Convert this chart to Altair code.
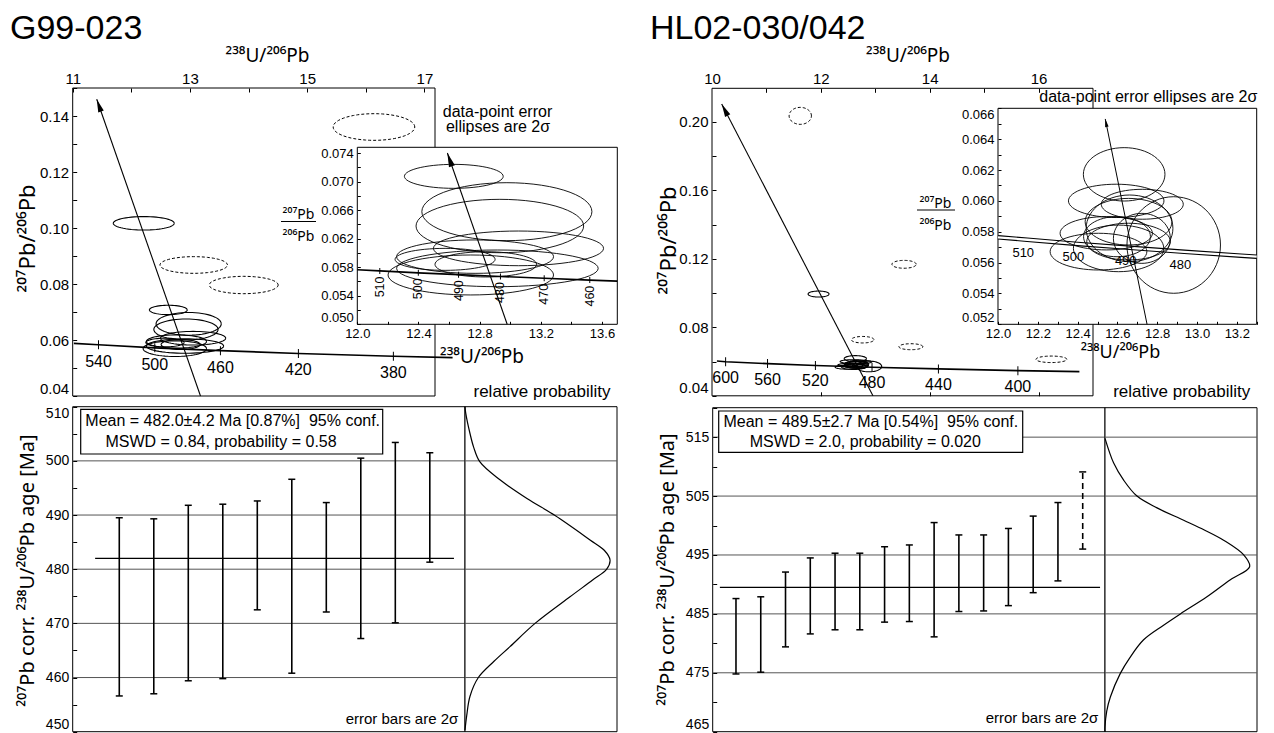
import altair as alt
import pandas as pd

W, H = 1274, 733
FONT = "Liberation Sans"
SUPFONT = "Noto Sans"

# ============================ DATA ============================
# ---------------- Sample G99-023 ----------------
G_NAME = "G99-023"
# accepted analyses, 2-sigma error ellipses: centre (238U/206Pb, 207Pb/206Pb) and half-axes
G_ELL_X = [12.631, 12.978, 12.932, 13.054, 12.770, 12.574, 12.840, 12.916, 12.742, 12.212]
G_ELL_Y = [0.07073, 0.06578, 0.06377, 0.06064, 0.05948, 0.05910, 0.05840, 0.05784, 0.05691, 0.10168]
G_ELL_RX = [0.323, 0.556, 0.548, 0.556, 0.513, 0.327, 0.332, 0.659, 0.541, 0.520]
G_ELL_RY = [0.00168, 0.00406, 0.00374, 0.00243, 0.00234, 0.00154, 0.00177, 0.00257, 0.00280, 0.00240]
# rejected analyses (dashed ellipses)
G_REJ_X = [13.064, 13.917, 16.139]
G_REJ_Y = [0.08679, 0.07964, 0.13607]
G_REJ_RX = [0.576, 0.588, 0.696]
G_REJ_RY = [0.00298, 0.00310, 0.00476]
# concordia (main plot) and its age marks
G_CONC_AGE = [560, 540, 500, 460, 420, 380, 357]
G_CONC_X = [11.02, 11.44, 12.40, 13.52, 14.85, 16.47, 17.48]
G_CONC_Y = [0.0588, 0.0583, 0.0572, 0.0562, 0.0552, 0.0542, 0.0537]
G_CONC_MARKS = [540, 500, 460, 420, 380]
# concordia (inset)
G_INS_AGE = [516, 510, 500, 490, 480, 470, 460, 454]
G_INS_X = [12.000, 12.147, 12.399, 12.662, 12.936, 13.222, 13.520, 13.700]
G_INS_Y = [0.05764, 0.05748, 0.05721, 0.05696, 0.05670, 0.05645, 0.05619, 0.05605]
G_INS_MARKS = [510, 500, 490, 480, 470, 460]
# regression line (arrow) towards common Pb
G_ARROW_X = [13.18, 11.41]
G_ARROW_Y = [0.040, 0.146]
G_IARROW_X = [12.98, 12.589]
G_IARROW_Y = [0.050, 0.0740]
# 207Pb-corrected 238U/206Pb ages, 2-sigma limits
G_AGE_LO = [456.6, 457.0, 459.4, 459.8, 472.5, 460.8, 472.1, 467.2, 470.1, 481.3]
G_AGE_HI = [489.5, 489.3, 491.8, 492.0, 492.6, 496.6, 492.3, 500.5, 503.4, 501.5]
G_MEAN = 482.0
G_MEAN_SPAN = [0.3, 10.7]
G_PROB_AGE = [450.3, 453.0, 456.5, 460.0, 463.0, 465.7, 470.0, 474.9, 478.0, 480.0, 481.7,
              483.5, 485.4, 489.9, 493.0, 496.5, 499.8, 502.5, 505.1, 508.8, 510.0]
G_PROB = [0.0, 0.012, 0.034, 0.092, 0.20, 0.31, 0.483, 0.724, 0.88, 0.977, 1.0,
          0.96, 0.862, 0.621, 0.43, 0.241, 0.103, 0.06, 0.034, 0.005, 0.0]
G_STATS = ["Mean = 482.0\u00b14.2 Ma [0.87%]\u00a0 95% conf.", "MSWD = 0.84, probability = 0.58"]

# ---------------- Sample HL02-030/042 ----------------
H_NAME = "HL02-030/042"
H_ELL_X = [12.634, 12.594, 12.725, 12.883, 12.656, 12.544, 12.656, 12.505, 12.606, 12.598,
           12.661, 12.723, 11.958]
H_ELL_Y = [0.06172, 0.06000, 0.05978, 0.05714, 0.05865, 0.05790, 0.05736, 0.05671, 0.05692,
           0.05768, 0.05822, 0.05757, 0.09944]
H_ELL_RX = [0.205, 0.240, 0.206, 0.235, 0.218, 0.232, 0.210, 0.243, 0.227, 0.168, 0.218, 0.143, 0.193]
H_ELL_RY = [0.00173, 0.00108, 0.00097, 0.00313, 0.00151, 0.00108, 0.00119, 0.00119, 0.00151,
            0.00130, 0.00216, 0.00162, 0.00175]
H_REJ_X = [11.622, 13.529, 12.768, 13.654, 16.236]
H_REJ_Y = [0.2035, 0.1168, 0.07276, 0.06867, 0.06131]
H_REJ_RX = [0.205, 0.223, 0.208, 0.220, 0.284]
H_REJ_RY = [0.00496, 0.00230, 0.00190, 0.00175, 0.00190]
H_CONC_AGE = [613, 600, 560, 520, 480, 440, 400, 374]
H_CONC_X = [10.09, 10.25, 11.02, 11.90, 12.94, 14.16, 15.62, 16.75]
H_CONC_Y = [0.0603, 0.0599, 0.0588, 0.0577, 0.0567, 0.0557, 0.0547, 0.0541]
H_CONC_MARKS = [600, 560, 520, 480, 440, 400]
H_INS_AGE = [516, 510, 500, 490, 480, 470, 467]
H_INS_X = [12.000, 12.147, 12.399, 12.662, 12.936, 13.222, 13.300]
H_INS_Y = [0.05764, 0.05748, 0.05721, 0.05696, 0.05670, 0.05645, 0.05638]
H_INS_MARKS = [510, 500, 490, 480]
H_ARROW_X = [12.957, 10.178]
H_ARROW_Y = [0.040, 0.2104]
H_IARROW_X = [12.749, 12.539]
H_IARROW_Y = [0.052, 0.06531]
H_AGE_LO = [474.8, 475.1, 479.4, 481.6, 482.3, 482.3, 483.6, 483.7, 481.1, 485.4, 485.5, 486.4, 488.6, 490.6]
H_AGE_HI = [487.6, 487.9, 492.1, 494.5, 495.3, 495.3, 496.4, 496.7, 500.5, 498.4, 498.4, 499.5, 501.6, 503.9]
H_REJ_AGE_LO = [496.0]
H_REJ_AGE_HI = [509.1]
H_MEAN = 489.5
H_MEAN_SPAN = [0.35, 15.7]
H_PROB_AGE = [465.0, 465.8, 468.5, 470.9, 474.9, 477.5, 480.6, 483.0, 485.0, 487.9, 490.8,
              493.0, 495.0, 497.5, 499.2, 500.9, 503.0, 505.0, 507.7, 510.6, 514.8]
H_PROB = [0.0, 0.0, 0.012, 0.037, 0.106, 0.17, 0.267, 0.40, 0.521, 0.705, 0.867,
          1.0, 0.959, 0.82, 0.69, 0.544, 0.36, 0.221, 0.129, 0.06, 0.0]
H_STATS = ["Mean = 489.5\u00b12.7 Ma [0.54%]\u00a0 95% conf.", "MSWD = 2.0, probability = 0.020"]

# ============================ LAYOUT (domains -> pixel ranges) ============================
P = {
    "GM": dict(xd=[11.0, 17.18], xr=[72.7, 435.0], yd=[0.04, 0.15], yr=[396.0, 88.0]),
    "GI": dict(xd=[12.0, 13.70], xr=[357.3, 617.3], yd=[0.050, 0.0748], yr=[324.3, 147.3]),
    "GB": dict(xd=[-0.35, 11.02], xr=[72.7, 465.0], yd=[450, 510], yr=[731.7, 406.7]),
    "GP": dict(xd=[0.0, 1.048], xr=[465.0, 617.0], yd=[450, 510], yr=[731.7, 406.7]),
    "HM": dict(xd=[10.0, 17.0], xr=[712.0, 1093.0], yd=[0.04, 0.2196], yr=[395.8, 88.3]),
    "HI": dict(xd=[12.0, 13.30], xr=[998.0, 1256.7], yd=[0.052, 0.066], yr=[324.3, 108.3]),
    "HB": dict(xd=[0.06, 15.9], xr=[712.7, 1105.0], yd=[465, 520], yr=[731.7, 407.7]),
    "HP": dict(xd=[0.0, 1.051], xr=[1105.0, 1257.0], yd=[465, 520], yr=[731.7, 407.7]),
}
SUP_U = "\u00b2\u00b3\u2078U/\u00b2\u2070\u2076Pb"
SUP_PB = "\u00b2\u2070\u2077Pb/\u00b2\u2070\u2076Pb"
SUP_AGE = "\u00b2\u2070\u2077Pb corr. \u00b2\u00b3\u2078U/\u00b2\u2070\u2076Pb age [Ma]"
ONE = pd.DataFrame({"a": [0]})


def S(p):
    return (alt.Scale(domain=p["xd"], range=p["xr"], zero=False, nice=False),
            alt.Scale(domain=p["yd"], range=p["yr"], zero=False, nice=False))


def XE(f, p, axis=None):
    return alt.X(f, type="quantitative", scale=S(p)[0], axis=axis)


def YE(f, p, axis=None):
    return alt.Y(f, type="quantitative", scale=S(p)[1], axis=axis)


def _off(orient, pos):
    return {"left": -pos, "right": pos - W, "top": -pos, "bottom": pos - H}[orient]


def lab_axis(orient, pos, values, fmt, size, flush=False, pad=3, title=None, tsize=20, tx=0, ty=0):
    kw = dict(orient=orient, offset=_off(orient, pos), values=values, format=fmt, domain=False,
              ticks=False, grid=False, labelFont=FONT, labelFontSize=size, labelColor="black",
              labelPadding=pad, labelFlush=flush, labelOverlap=False, zindex=2)
    if title is None:
        kw["title"] = None
    else:
        kw.update(title=title, titleFont=SUPFONT, titleFontSize=tsize, titleFontWeight="normal",
                  titleColor="black", titleX=tx, titleY=ty, titleBaseline="alphabetic",
                  titleAlign="center")
    return alt.Axis(**kw)


def tick_axis(orient, pos, values, size=4):
    return alt.Axis(orient=orient, offset=_off(orient, pos), values=values, labels=False,
                    domain=False, ticks=True, tickSize=size, tickColor="black", tickWidth=1,
                    grid=False, title=None, zindex=2)


def frame(p, fill="white", xaxis=None, yaxis=None, sw=1.0):
    df = pd.DataFrame({"x0": [p["xd"][0]], "x1": [p["xd"][1]], "y0": [p["yd"][0]], "y1": [p["yd"][1]]})
    return alt.Chart(df).mark_rect(fill=fill, stroke="black", strokeWidth=sw).encode(
        x=XE("x0", p, xaxis), x2="x1:Q", y=YE("y0", p, yaxis), y2="y1:Q")


def carrier(p, xaxis=None, yaxis=None):
    df = pd.DataFrame({"cx": p["xd"], "cy": p["yd"]})
    return alt.Chart(df).mark_point(opacity=0).encode(x=XE("cx", p, xaxis), y=YE("cy", p, yaxis))


def ellipses(xs, ys, rxs, rys, p, dash=False, sw=1.0):
    n = 60
    rows = []
    for i, (cx, cy, rx, ry) in enumerate(zip(xs, ys, rxs, rys)):
        for k in range(n + 1):
            rows.append({"id": i, "k": k, "cx": cx, "cy": cy, "rx": rx, "ry": ry})
    mk = dict(color="black", strokeWidth=sw, opacity=1, strokeJoin="round")
    if dash:
        mk["strokeDash"] = [3, 2]
    return alt.Chart(pd.DataFrame(rows)).transform_calculate(
        ex=f"datum.cx + datum.rx * cos(2 * PI * datum.k / {n})",
        ey=f"datum.cy + datum.ry * sin(2 * PI * datum.k / {n})",
    ).mark_line(**mk).encode(x=XE("ex", p), y=YE("ey", p), detail="id:N", order=alt.Order("k:Q"))


def line(xs, ys, p, sw=1.0, color="black", interp="linear", dash=None):
    df = pd.DataFrame({"lx": xs, "ly": ys, "o": list(range(len(xs)))})
    mk = dict(color=color, strokeWidth=sw, opacity=1, interpolate=interp)
    if dash:
        mk["strokeDash"] = dash
    return alt.Chart(df).mark_line(**mk).encode(x=XE("lx", p), y=YE("ly", p), order=alt.Order("o:Q"))


def arrowhead(x, y, p, angle, size):
    df = pd.DataFrame({"hx": [x], "hy": [y]})
    return alt.Chart(df).mark_point(shape="M0,0L0.45,2L-0.45,2Z", filled=True, color="black",
                                    opacity=1, size=size, angle=angle).encode(x=XE("hx", p), y=YE("hy", p))


def conc_marks(ages, xs, ys, marks, p, tick=8, fsize=16, angle=0, dx=0, dy=16, ticks=True):
    sel = [(a, x, y) for a, x, y in zip(ages, xs, ys) if a in marks]
    df = pd.DataFrame({"age": [s[0] for s in sel], "mx": [s[1] for s in sel], "my": [s[2] for s in sel]})
    base = alt.Chart(df)
    out = []
    if ticks:
        out.append(base.mark_tick(orient="vertical", size=tick, thickness=1, color="black", opacity=1)
                   .encode(x=XE("mx", p), y=YE("my", p)))
    tk = dict(font=FONT, fontSize=fsize, color="black", align="center", baseline="middle",
              xOffset=dx, yOffset=dy)
    if angle:
        tk["angle"] = angle
    out.append(base.mark_text(**tk).encode(x=XE("mx", p), y=YE("my", p), text="age:N"))
    return out


def txt(s, x, y, size, align="center", baseline="alphabetic", font=FONT):
    return alt.Chart(ONE).mark_text(text=s, font=font, fontSize=size, color="black", align=align,
                                    baseline=baseline).encode(x=alt.value(x), y=alt.value(y))


def grid(values, p, color="#555555"):
    df = pd.DataFrame({"gv": values, "ga": [p["xd"][0]] * len(values), "gb": [p["xd"][1]] * len(values)})
    return alt.Chart(df).mark_rule(color=color, strokeWidth=1, opacity=1).encode(
        x=XE("ga", p), x2="gb:Q", y=YE("gv", p))


def bars(lo, hi, p, start=1, dash=None, sw=1.6):
    df = pd.DataFrame({"i": list(range(start, start + len(lo))), "lo": lo, "hi": hi})
    mk = dict(color="black", strokeWidth=sw, opacity=1)
    if dash:
        mk["strokeDash"] = dash
    r = alt.Chart(df).mark_rule(**mk).encode(x=XE("i", p), y=YE("lo", p), y2="hi:Q")
    caps = alt.Chart(df).transform_fold(["lo", "hi"], as_=["end", "v"]).mark_tick(
        orient="horizontal", size=7, thickness=1.5, color="black", opacity=1).encode(
        x=XE("i", p), y=YE("v", p))
    return [r, caps]


def mean_line(m, span, p):
    df = pd.DataFrame({"m": [m], "m0": [span[0]], "m1": [span[1]]})
    return alt.Chart(df).mark_rule(color="black", strokeWidth=1.3, opacity=1).encode(
        x=XE("m0", p), x2="m1:Q", y=YE("m", p))


def prob_curve(ages, vals, p):
    df = pd.DataFrame({"pa": ages, "pv": vals})
    return alt.Chart(df).mark_line(color="black", strokeWidth=1.2, opacity=1,
                                   interpolate="catmull-rom").encode(
        x=XE("pv", p), y=YE("pa", p), order=alt.Order("pa:Q"))


def box(x0, x1, y0, y1):
    return alt.Chart(ONE).mark_rect(fill="white", stroke="black", strokeWidth=1.2).encode(
        x=alt.value(x0), x2=alt.value(x1), y=alt.value(y0), y2=alt.value(y1))


def hrule(x0, x1, y):
    return alt.Chart(ONE).mark_rule(color="black", strokeWidth=1).encode(
        x=alt.value(x0), x2=alt.value(x1), y=alt.value(y))


def steps(a, b, s):
    n = int(round((b - a) / s))
    return [round(a + i * s, 6) for i in range(n + 1)]


layers = []

# ============================ LEFT: G99-023 ============================
gm, gi, gb, gp = P["GM"], P["GI"], P["GB"], P["GP"]
layers.append(txt(G_NAME, 10, 38.5, 34, align="left"))
# main Tera-Wasserburg
layers.append(frame(gm,
                    xaxis=lab_axis("top", 88.0, [11, 13, 15, 17], "d", 15, pad=2, title=SUP_U,
                                   tsize=19, tx=267, ty=-26.5),
                    yaxis=lab_axis("left", 72.7, steps(0.04, 0.14, 0.02), ".2f", 15, flush=True,
                                   pad=4, title=SUP_PB, tsize=22, tx=-37.7, ty=238)))
layers.append(carrier(gm, xaxis=tick_axis("bottom", 88.0, steps(11, 17, 1)),
                      yaxis=tick_axis("right", 72.7, steps(0.04, 0.15, 0.01))))
layers.append(ellipses(G_REJ_X, G_REJ_Y, G_REJ_RX, G_REJ_RY, gm, dash=True))
layers.append(ellipses(G_ELL_X, G_ELL_Y, G_ELL_RX, G_ELL_RY, gm, sw=1.1))
layers.append(line(G_CONC_X, G_CONC_Y, gm, sw=1.6))
layers += conc_marks(G_CONC_AGE, G_CONC_X, G_CONC_Y, G_CONC_MARKS, gm, tick=9, fsize=16, dy=17)
layers.append(line(G_ARROW_X, G_ARROW_Y, gm, sw=1.1))
layers.append(arrowhead(G_ARROW_X[1], G_ARROW_Y[1], gm, 340.7, 169))
layers.append(txt("data-point error", 497.5, 116.7, 16))
layers.append(txt("ellipses are 2\u03c3", 498, 131.7, 16))
# inset
layers.append(frame(gi,
                    xaxis=lab_axis("bottom", 324.3, steps(12.0, 13.6, 0.4), ".1f", 13, pad=3,
                                   title=SUP_U, tsize=19, tx=481.5, ty=38.5),
                    yaxis=lab_axis("left", 357.3, steps(0.050, 0.074, 0.004), ".3f", 13, pad=4,
                                   flush=True)))
layers.append(carrier(gi, xaxis=tick_axis("top", 324.3, steps(12.0, 13.6, 0.2), 3),
                      yaxis=tick_axis("right", 357.3, steps(0.050, 0.074, 0.002), 3)))
ins_sel = [i for i in range(len(G_ELL_Y)) if G_ELL_Y[i] < gi["yd"][1]]
layers.append(ellipses([G_ELL_X[i] for i in ins_sel], [G_ELL_Y[i] for i in ins_sel],
                       [G_ELL_RX[i] for i in ins_sel], [G_ELL_RY[i] for i in ins_sel], gi, sw=0.9))
layers.append(line(G_INS_X, G_INS_Y, gi, sw=1.6))
layers += conc_marks(G_INS_AGE, G_INS_X, G_INS_Y, G_INS_MARKS, gi, tick=6, fsize=12.5,
                     angle=270, dy=16)
layers.append(line(G_IARROW_X, G_IARROW_Y, gi, sw=1.1))
layers.append(arrowhead(G_IARROW_X[1], G_IARROW_Y[1], gi, 341, 196))
layers.append(txt("\u00b2\u2070\u2077Pb", 298.5, 219.3, 14, font=SUPFONT))
layers.append(hrule(281, 316, 221.5))
layers.append(txt("\u00b2\u2070\u2076Pb", 298.5, 240.7, 14, font=SUPFONT))
# weighted mean panel
layers.append(frame(gb, yaxis=lab_axis("left", 72.7, steps(450, 510, 10), "d", 14, flush=True,
                                       pad=4, title=SUP_AGE, tsize=20, tx=-39.4, ty=570)))
layers.append(grid(steps(460, 500, 10), gb))
layers.append(carrier(gb, yaxis=tick_axis("right", 72.7, steps(450, 510, 5), 4)))
layers.append(mean_line(G_MEAN, G_MEAN_SPAN, gb))
layers += bars(G_AGE_LO, G_AGE_HI, gb)
layers.append(box(80.7, 382.7, 409.3, 454.0))
layers.append(txt(G_STATS[0], 232.7, 425.7, 16))
layers.append(txt(G_STATS[1], 221, 446.7, 16))
layers.append(txt("error bars are 2\u03c3", 458.3, 724.3, 15, align="right"))
# relative probability panel
layers.append(frame(gp))
layers.append(grid(steps(460, 500, 10), gp))
layers.append(prob_curve(G_PROB_AGE, G_PROB, gp))
layers.append(txt("relative probability", 542, 397.3, 17))

# ============================ RIGHT: HL02-030/042 ============================
hm, hi_, hb, hp = P["HM"], P["HI"], P["HB"], P["HP"]
layers.append(txt(H_NAME, 650, 38.5, 34, align="left"))
layers.append(frame(hm,
                    xaxis=lab_axis("top", 88.3, [10, 12, 14, 16], "d", 15, pad=2, title=SUP_U,
                                   tsize=19, tx=907.5, ty=-26.5),
                    yaxis=lab_axis("left", 712.0, steps(0.04, 0.20, 0.04), ".2f", 15, flush=True,
                                   pad=4, title=SUP_PB, tsize=22, tx=-37, ty=240)))
layers.append(carrier(hm, xaxis=tick_axis("bottom", 88.3, steps(11, 16, 1)),
                      yaxis=tick_axis("right", 712.0, steps(0.04, 0.20, 0.02))))
layers.append(carrier(hm, xaxis=tick_axis("top", 395.8, [12, 14, 16])))
layers.append(ellipses(H_REJ_X, H_REJ_Y, H_REJ_RX, H_REJ_RY, hm, dash=True))
layers.append(ellipses(H_ELL_X, H_ELL_Y, H_ELL_RX, H_ELL_RY, hm, sw=1.1))
layers.append(line(H_CONC_X, H_CONC_Y, hm, sw=1.6))
layers += conc_marks(H_CONC_AGE, H_CONC_X, H_CONC_Y, H_CONC_MARKS, hm, tick=9, fsize=16, dy=16)
layers.append(line(H_ARROW_X, H_ARROW_Y, hm, sw=1.1))
layers.append(arrowhead(H_ARROW_X[1], H_ARROW_Y[1], hm, 332.5, 169))
layers.append(txt("data-point error ellipses are 2\u03c3", 1148.3, 101.7, 16))
# inset
layers.append(frame(hi_,
                    xaxis=lab_axis("bottom", 324.3, steps(12.0, 13.2, 0.2), ".1f", 13, pad=3,
                                   title=SUP_U, tsize=18, tx=1120, ty=33.5),
                    yaxis=lab_axis("left", 998.0, steps(0.052, 0.066, 0.002), ".3f", 13, pad=4,
                                   flush=True)))
layers.append(carrier(hi_, xaxis=tick_axis("top", 324.3, steps(12.0, 13.3, 0.1), 3),
                      yaxis=tick_axis("right", 998.0, steps(0.052, 0.066, 0.001), 3)))
hsel = [i for i in range(len(H_ELL_Y)) if H_ELL_Y[i] < hi_["yd"][1]]
layers.append(line(H_INS_X, H_INS_Y, hi_, sw=4.5))
layers.append(line(H_INS_X, H_INS_Y, hi_, sw=2.3, color="white"))
layers.append(ellipses([H_ELL_X[i] for i in hsel], [H_ELL_Y[i] for i in hsel],
                       [H_ELL_RX[i] for i in hsel], [H_ELL_RY[i] for i in hsel], hi_, sw=0.9))
layers += conc_marks(H_INS_AGE, H_INS_X, H_INS_Y, H_INS_MARKS, hi_, fsize=13, dx=-4, dy=13,
                     ticks=False)
layers.append(line(H_IARROW_X, H_IARROW_Y, hi_, sw=1.0))
layers.append(arrowhead(H_IARROW_X[1], H_IARROW_Y[1], hi_, 348.5, 64))
layers.append(txt("\u00b2\u2070\u2077Pb", 935.5, 207.5, 14, font=SUPFONT))
layers.append(hrule(917, 955, 210))
layers.append(txt("\u00b2\u2070\u2076Pb", 935.5, 230, 14, font=SUPFONT))
# weighted mean panel
layers.append(frame(hb, yaxis=lab_axis("left", 712.7, steps(465, 515, 10), "d", 14, flush=True,
                                       pad=4, title=SUP_AGE, tsize=20, tx=-39.4, ty=569)))
layers.append(grid(steps(475, 515, 10), hb))
layers.append(carrier(hb, yaxis=tick_axis("right", 712.7, steps(465, 520, 5), 4)))
layers.append(mean_line(H_MEAN, H_MEAN_SPAN, hb))
layers += bars(H_AGE_LO, H_AGE_HI, hb)
layers += bars(H_REJ_AGE_LO, H_REJ_AGE_HI, hb, start=len(H_AGE_LO) + 1, dash=[6, 4])
layers.append(box(718.7, 1022.7, 411.0, 452.3))
layers.append(txt(H_STATS[0], 870.8, 426.7, 16))
layers.append(txt(H_STATS[1], 865.3, 446.7, 16))
layers.append(txt("error bars are 2\u03c3", 1098.3, 722.7, 15, align="right"))
layers.append(frame(hp))
layers.append(grid(steps(475, 515, 10), hp))
layers.append(prob_curve(H_PROB_AGE, H_PROB, hp))
layers.append(txt("relative probability", 1181.7, 396.7, 17))

chart = alt.layer(*layers).resolve_scale(x="independent", y="independent").properties(
    width=W, height=H, autosize=alt.AutoSizeParams(type="none"), padding=0,
    background="white",
).configure_view(strokeWidth=0)

chart.save("out.html", embed_options={"renderer": "svg", "actions": False})
